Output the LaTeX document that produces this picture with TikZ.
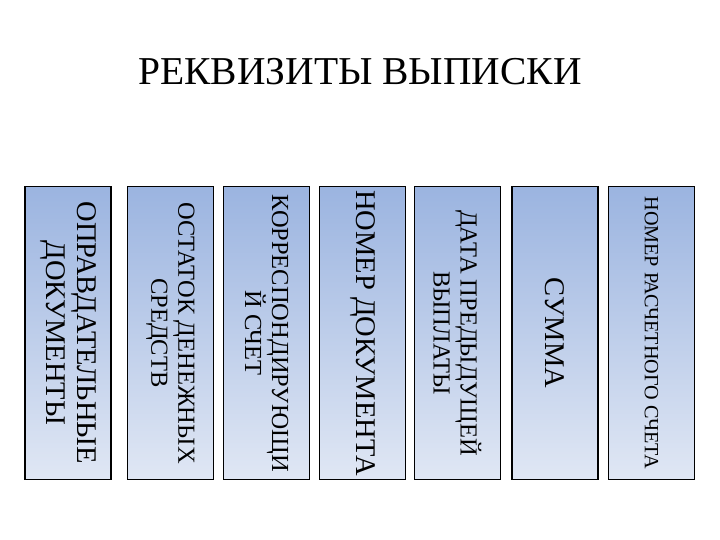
\documentclass[tikz,border=0pt]{standalone}
\usepackage{fontspec}
\setmainfont{Liberation Serif}
\definecolor{bartop}{RGB}{155,180,224}
\definecolor{barbot}{RGB}{224,231,244}
\begin{document}
\begin{tikzpicture}[x=1pt,y=-1pt,
  bar/.style={draw=black, line width=1.8pt, top color=bartop, bottom color=barbot,
    minimum width=86pt, minimum height=293pt, inner sep=0pt, outer sep=0pt},
  lbl/.style={rotate=-90, align=center, inner sep=0pt, text=black},
  big/.style={font=\fontsize{28.5}{31}\selectfont},
  mid/.style={font=\fontsize{24.5}{27}\selectfont},
  small/.style={font=\fontsize{20.2}{22}\selectfont},
  ttl/.style={font=\fontsize{39.5}{43}\selectfont, inner sep=0pt}]
\useasboundingbox (0,0) rectangle (720,540);
\node[ttl, anchor=base] (title) at (360,85) {РЕКВИЗИТЫ ВЫПИСКИ};
\node[bar] (b1) at (68,333) {};
\node[bar] (b2) at (170.5,333) {};
\node[bar] (b3) at (266.5,333) {};
\node[bar] (b4) at (362.5,333) {};
\node[bar] (b5) at (457.5,333) {};
\node[bar] (b6) at (555,333) {};
\node[bar] (b7) at (651.5,333) {};
\node[lbl, big] (t1) at (b1.center) {ОПРАВДАТЕЛЬНЫЕ\\ДОКУМЕНТЫ};
\node[lbl, mid] (t2) at (b2.center) {ОСТАТОК ДЕНЕЖНЫХ\\СРЕДСТВ};
\node[lbl, mid] (t3) at (b3.center) {КОРРЕСПОНДИРУЮЩИ\\Й СЧЕТ};
\node[lbl, big] (t4) at (b4.center) {НОМЕР ДОКУМЕНТА};
\node[lbl, mid] (t5) at (b5.center) {ДАТА ПРЕДЫДУЩЕЙ\\ВЫПЛАТЫ};
\node[lbl, big] (t6) at (b6.center) {СУММА};
\node[lbl, small] (t7) at (b7.center) {НОМЕР РАСЧЕТНОГО СЧЕТА};
\end{tikzpicture}
\end{document}
